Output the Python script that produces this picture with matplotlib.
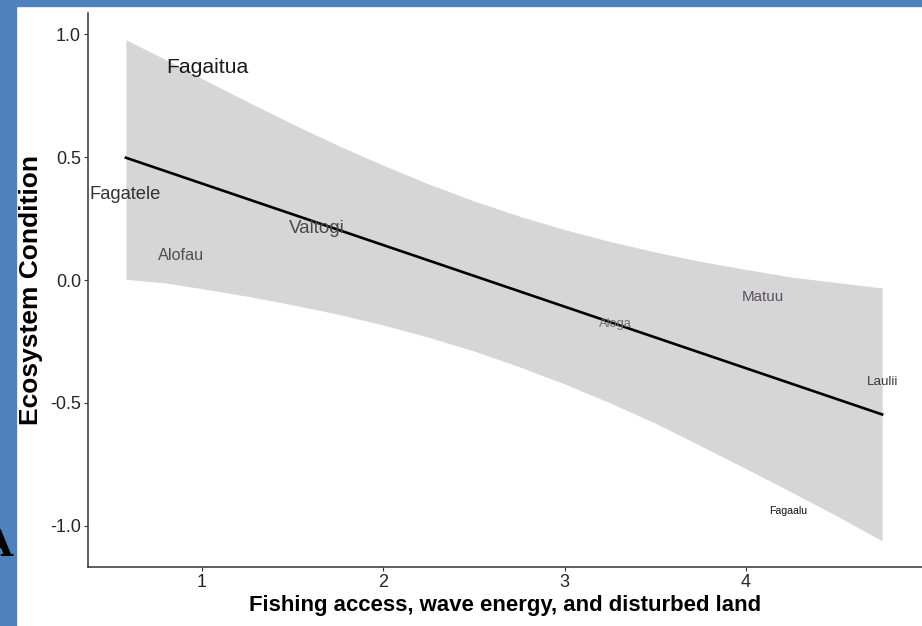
import matplotlib
matplotlib.use("Agg")
import matplotlib.pyplot as plt

# fitted trend and its confidence band
line_x = [0.58, 4.75]
line_y = [0.498, -0.547]

band_x = [0.58, 0.8, 1.0, 1.25, 1.5, 1.75, 2.0, 2.25, 2.5,
          2.75, 3.0, 3.25, 3.5, 3.75, 4.0, 4.25, 4.5, 4.75]
band_hi = [0.978, 0.897, 0.82, 0.726, 0.635, 0.548, 0.467, 0.391, 0.322,
           0.26, 0.205, 0.157, 0.114, 0.076, 0.043, 0.012, -0.01, -0.032]
band_lo = [0.003, -0.012, -0.035, -0.066, -0.101, -0.139, -0.183, -0.233, -0.289,
           -0.353, -0.423, -0.50, -0.583, -0.675, -0.768, -0.863, -0.96, -1.062]

# site labels
sites = ["Fagaitua", "Fagatele", "Valtogi", "Alofau", "Matuu", "Aloga", "Laulii", "Fagaalu"]
site_x = [1.03, 0.575, 1.63, 0.884, 4.09, 3.28, 4.75, 4.23]
site_y = [0.867, 0.35, 0.21, 0.098, -0.068, -0.18, -0.415, -0.94]

label_sizes = [15.2, 13.2, 13.5, 11.7, 10.9, 9.3, 9.6, 7.6]
label_colors = ["#1a1a1a", "#333333", "#4a4a4a", "#505050", "#5a5060", "#707070", "#3a3a3a", "#111111"]

xticks = [1, 2, 3, 4]
yticks = [-1.0, -0.5, 0.0, 0.5, 1.0]

plt.rcParams["font.family"] = ["Liberation Sans", "DejaVu Sans"]

fig = plt.figure(figsize=(9.22, 6.26), dpi=100)
W, H = 922, 626
ax = fig.add_axes([88 / W, (H - 567) / H, (W - 88) / W, (567 - 13) / H])

ax.fill_between(band_x, band_lo, band_hi, color="#d6d6d6", linewidth=0, zorder=1)
ax.plot(line_x, line_y, color="black", linewidth=1.9, zorder=2)

for name, x, y, s, c in zip(sites, site_x, site_y, label_sizes, label_colors):
    ax.text(x, y, name, fontsize=s, color=c, ha="center", va="center", zorder=3)

ax.set_xlim(0.371, 4.97)
ax.set_ylim(-1.168, 1.087)
ax.set_xticks(xticks)
ax.set_xticklabels([str(t) for t in xticks])
ax.set_yticks(yticks)
ax.set_yticklabels([f"{t:.1f}" for t in yticks])

for side in ["top", "right"]:
    ax.spines[side].set_visible(False)
for side in ["left", "bottom"]:
    ax.spines[side].set_color("#333333")
    ax.spines[side].set_linewidth(1.1)

ax.tick_params(axis="both", direction="out", length=3, width=0.8, color="#333333",
               labelsize=13, labelcolor="#262626", pad=2)

ax.set_xlabel("Fishing access, wave energy, and disturbed land", fontsize=15.9,
              fontweight="bold", labelpad=3)
ax.set_ylabel("Ecosystem Condition", fontsize=19, fontweight="bold", labelpad=5)

# slide frame: blue bars on top and left, with the panel letter
blue = "#4f81bd"
fig.patches.append(plt.Rectangle((0, (H - 6) / H), 1, 6 / H, transform=fig.transFigure,
                                 color=blue, zorder=0))
fig.patches.append(plt.Rectangle((0, 0), 16 / W, 1, transform=fig.transFigure,
                                 color=blue, zorder=0))
fig.text(12 / W, (H - 556) / H, "A", family=["DejaVu Serif"], fontweight="bold",
         fontsize=27, ha="right", va="baseline", color="black")

fig.savefig("out.png", dpi=100)
